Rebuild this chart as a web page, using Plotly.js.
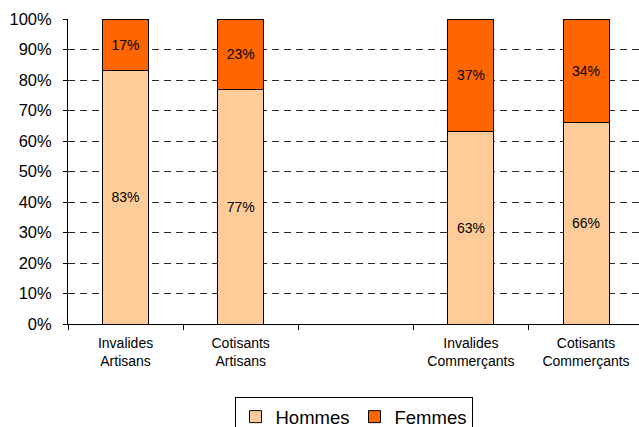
<!DOCTYPE html>
<html>
<head>
<meta charset="utf-8">
<script src="https://cdn.plot.ly/plotly-3.0.1.min.js"></script>
<style>html,body{margin:0;padding:0;background:#fff;}#chart{width:639px;height:427px;}</style>
</head>
<body>
<div id="chart"></div>
<script>
const categories = ["Invalides<br>Artisans", "Cotisants<br>Artisans", " ", "Invalides<br>Commerçants", "Cotisants<br>Commerçants"];
const hommes = [83, 77, null, 63, 66];
const femmes = [17, 23, null, 37, 34];
const seriesNames = ["Hommes", "Femmes"];

const font = "Liberation Sans, Arial, sans-serif";
function trace(name, vals, color) {
  return {
    type: "bar", name: name, x: categories, y: vals,
    marker: {color: color, line: {color: "#000", width: 1}},
    width: 0.4,
    text: vals.map(v => v == null ? "" : v + "%"),
    texttemplate: "%{text}", textposition: "inside", insidetextanchor: "middle", textangle: 0,
    textfont: {family: font, size: 14, color: "#000"},
    hoverinfo: "skip"
  };
}
const data = [trace(seriesNames[0], hommes, "#FFCC99"), trace(seriesNames[1], femmes, "#FF6600")];
const layout = {
  width: 639, height: 427,
  margin: {l: 68, r: 0, t: 19, b: 103},
  barmode: "stack",
  paper_bgcolor: "#fff", plot_bgcolor: "#fff",
  font: {family: font, color: "#000"},
  showlegend: true,
  xaxis: {
    type: "category", categoryorder: "array", categoryarray: categories,
    range: [-0.5, 4.46], tickson: "boundaries", ticks: "outside", ticklen: 5, tickcolor: "#000",
    showline: true, linecolor: "#000", linewidth: 1, showgrid: false, zeroline: false,
    tickfont: {size: 14, family: font}, ticklabelstandoff: 6, fixedrange: true
  },
  yaxis: {
    range: [0, 100], dtick: 10, ticksuffix: "%", ticks: "outside", ticklen: 4, tickcolor: "#000",
    showline: true, linecolor: "#000", linewidth: 1,
    showgrid: true, gridcolor: "#2a2a2a", griddash: "7px,5px", gridwidth: 1, zeroline: false,
    tickfont: {size: 16.5, family: font}, ticklabelstandoff: 8, fixedrange: true
  },
  legend: {
    orientation: "h", x: 0.5, xanchor: "center", yref: "container", y: 0.07, yanchor: "top",
    bordercolor: "#000", borderwidth: 1, font: {size: 18.5, family: font}, traceorder: "normal",
    itemwidth: 30, tracegroupgap: 0
  }
};
Plotly.newPlot("chart", data, layout, {displayModeBar: false, staticPlot: true});
</script>
</body>
</html>
